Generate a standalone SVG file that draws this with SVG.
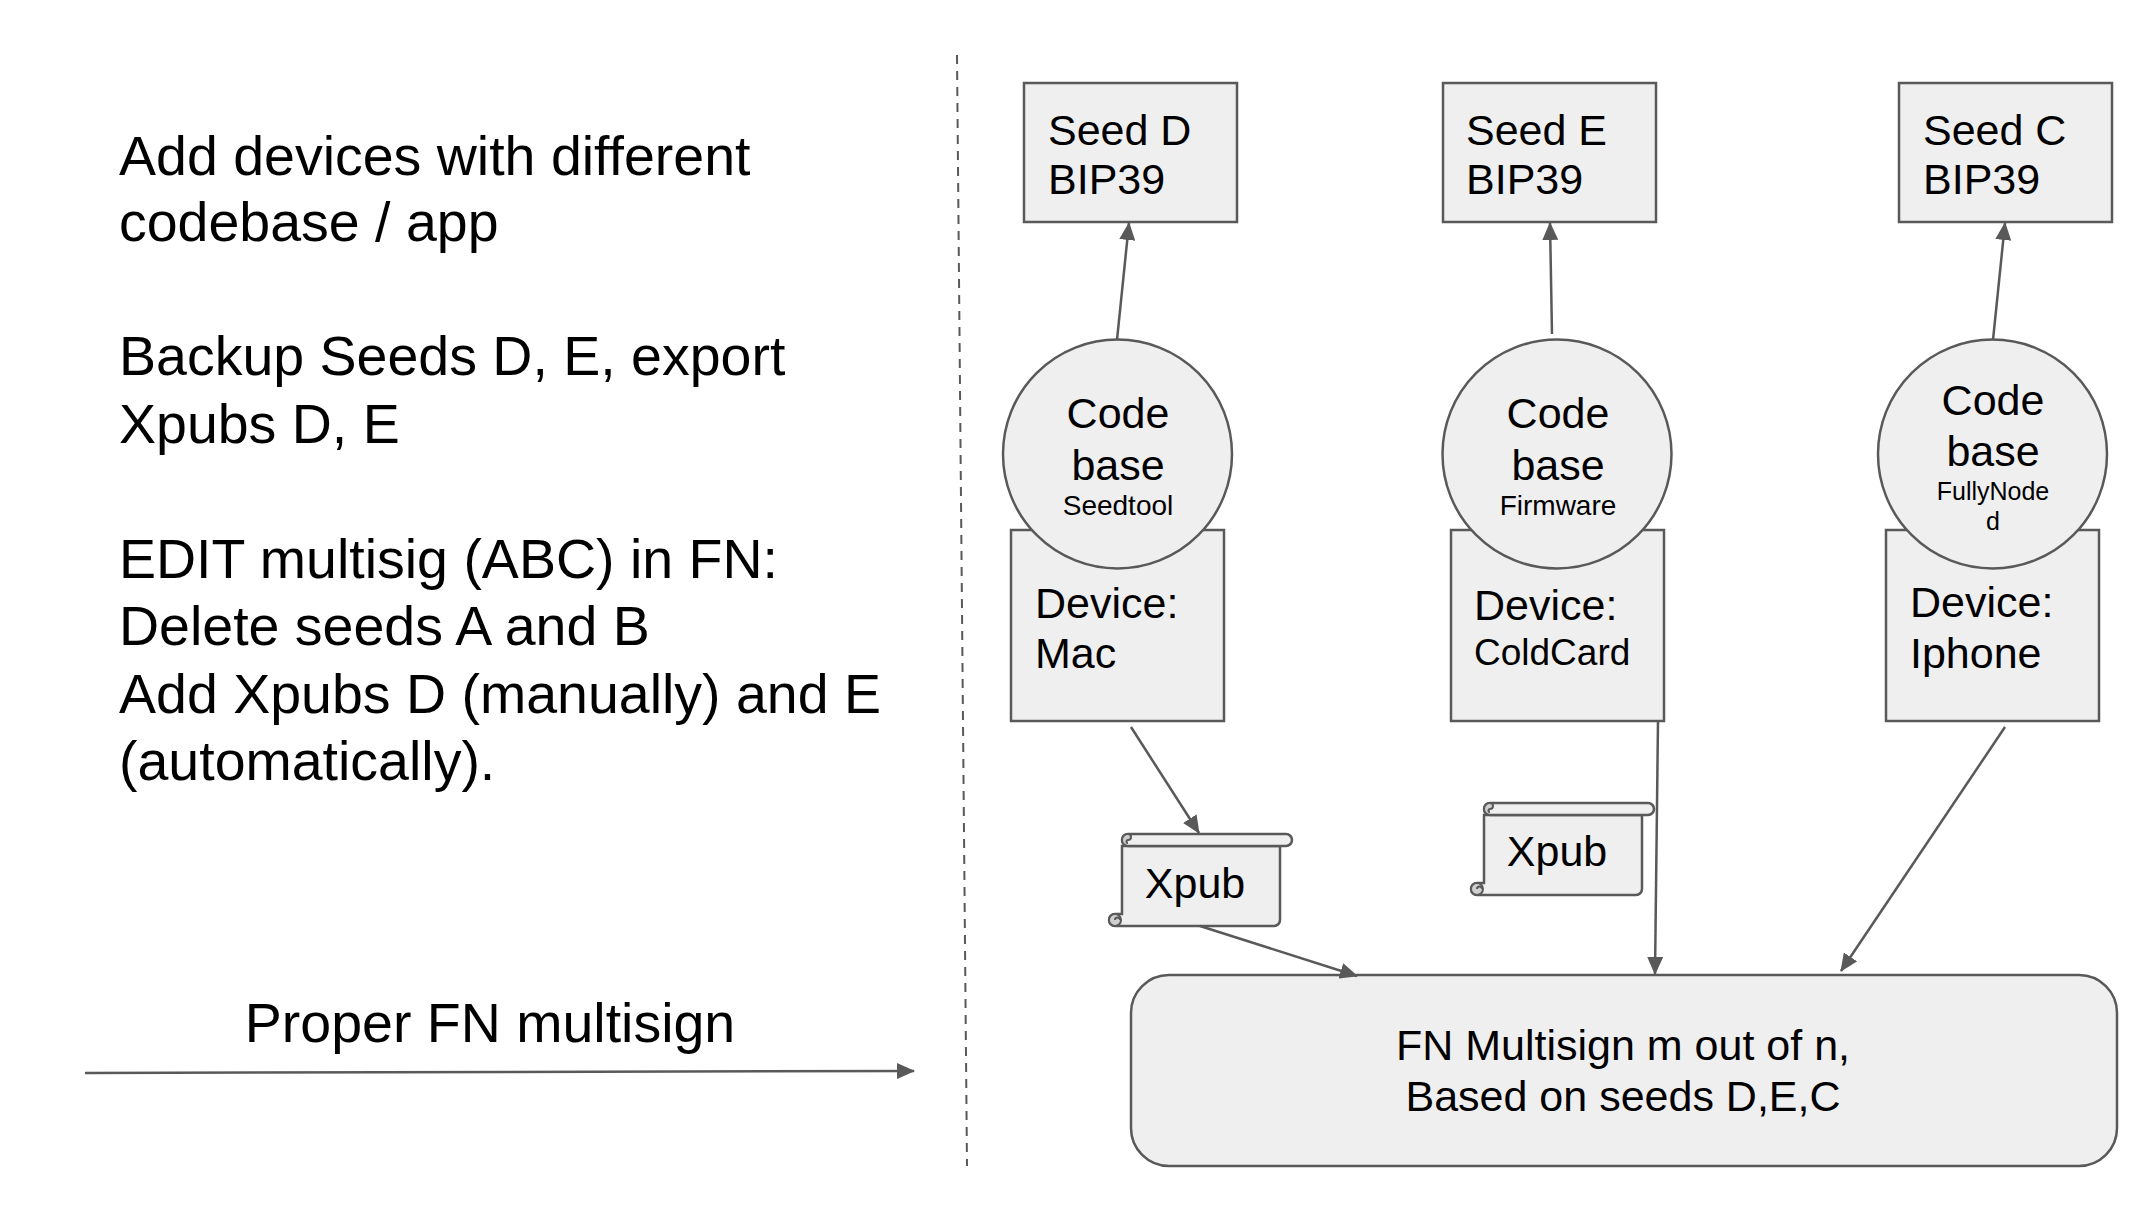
<svg xmlns="http://www.w3.org/2000/svg" xmlns:xlink="http://www.w3.org/1999/xlink" width="2150" height="1206" viewBox="0 0 2150 1206">
<style>
  .box { fill: #efefef; stroke: #595959; stroke-width: 2.5; }
  .curl { fill: #cfcfcf; stroke: #595959; stroke-width: 2; }
  .conn { fill: none; stroke: #595959; stroke-width: 2.5; }
  .dash { fill: none; stroke: #595959; stroke-width: 2; stroke-dasharray: 9 7; }
  text { font-family: "Liberation Sans", Arial, sans-serif; fill: #000000; }
  .big { font-size: 55.5px; }
  .lbl { font-size: 43px; }
  .sub { font-size: 28px; }
  .mid { text-anchor: middle; }
</style>
<defs>
  <marker id="ah" viewBox="0 0 18 16" refX="17" refY="8" markerWidth="18" markerHeight="16" markerUnits="userSpaceOnUse" orient="auto">
    <path d="M0,0 L18,8 L0,16 Z" fill="#595959"/>
  </marker>
  <g id="scroll">
    <path class="box" d="M13,12 V80 H6 A6,6 0 0 0 6,92 H165 A6,6 0 0 0 171,86 V12 Z"/>
    <rect class="box" x="13" y="0" width="170" height="12" rx="6"/>
    <path class="curl" d="M19,12 A6,6 0 0 1 19,0 A3,3 0 0 1 19,6 A1.5,1.5 0 0 0 19,9"/>
    <circle class="curl" cx="6" cy="86" r="6"/>
    <path d="M6,86 A2.5,2.5 0 0 1 11,86" fill="none" stroke="#595959" stroke-width="2"/>
  </g>
</defs>
<rect x="0" y="0" width="2150" height="1206" fill="#ffffff"/>

<g id="notes">
  <text class="big" x="119" y="175">Add devices with different</text>
  <text class="big" x="119" y="241">codebase / app</text>
  <text class="big" x="119" y="375">Backup Seeds D, E, export</text>
  <text class="big" x="119" y="443">Xpubs D, E</text>
  <text class="big" x="119" y="578">EDIT multisig (ABC) in FN:</text>
  <text class="big" x="119" y="645">Delete seeds A and B</text>
  <text class="big" x="119" y="713">Add Xpubs D (manually) and E</text>
  <text class="big" x="119" y="780">(automatically).</text>
  <text class="big mid" x="490" y="1042">Proper FN multisign</text>
</g>

<g id="divider">
  <line class="dash" x1="957" y1="55" x2="967" y2="1166"/>
</g>

<g id="seedD">
  <rect class="box" x="1024" y="83" width="213" height="139"/>
  <text class="lbl" x="1048" y="145">Seed D</text>
  <text class="lbl" x="1048" y="194">BIP39</text>
</g>
<g id="seedE">
  <rect class="box" x="1443" y="83" width="213" height="139"/>
  <text class="lbl" x="1466" y="145">Seed E</text>
  <text class="lbl" x="1466" y="194">BIP39</text>
</g>
<g id="seedC">
  <rect class="box" x="1899" y="83" width="213" height="139"/>
  <text class="lbl" x="1923" y="145">Seed C</text>
  <text class="lbl" x="1923" y="194">BIP39</text>
</g>

<g id="deviceMac">
  <rect class="box" x="1011" y="530" width="213" height="191"/>
  <text class="lbl" x="1035" y="618">Device:</text>
  <text class="lbl" x="1035" y="668">Mac</text>
</g>
<g id="codebaseSeedtool">
  <circle class="box" cx="1117.5" cy="454" r="114.5"/>
  <text class="lbl mid" x="1118" y="428">Code</text>
  <text class="lbl mid" x="1118" y="480">base</text>
  <text class="sub mid" x="1118" y="515">Seedtool</text>
</g>

<g id="deviceColdCard">
  <rect class="box" x="1451" y="530" width="213" height="191"/>
  <text class="lbl" x="1474" y="620">Device:</text>
  <text x="1474" y="665" style="font-size:37px">ColdCard</text>
</g>
<g id="codebaseFirmware">
  <circle class="box" cx="1557" cy="454" r="114.5"/>
  <text class="lbl mid" x="1558" y="428">Code</text>
  <text class="lbl mid" x="1558" y="480">base</text>
  <text class="sub mid" x="1558" y="515">Firmware</text>
</g>

<g id="deviceIphone">
  <rect class="box" x="1886" y="530" width="213" height="191"/>
  <text class="lbl" x="1910" y="617">Device:</text>
  <text class="lbl" x="1910" y="668">Iphone</text>
</g>
<g id="codebaseFullyNoded">
  <circle class="box" cx="1992.5" cy="454" r="114.5"/>
  <text class="lbl mid" x="1993" y="415">Code</text>
  <text class="lbl mid" x="1993" y="466">base</text>
  <text class="mid" x="1993" y="500" style="font-size:25px">FullyNode</text>
  <text class="mid" x="1993" y="530" style="font-size:25px">d</text>
</g>

<g id="xpub1">
  <use xlink:href="#scroll" href="#scroll" transform="translate(1109,834)"/>
  <text class="lbl mid" x="1195" y="898">Xpub</text>
</g>
<g id="xpub2">
  <use xlink:href="#scroll" href="#scroll" transform="translate(1471,803)"/>
  <text class="lbl mid" x="1557" y="866">Xpub</text>
</g>

<g id="fnMultisign">
  <rect class="box" x="1131" y="975" width="986" height="191" rx="38"/>
  <text class="lbl mid" x="1623" y="1060">FN Multisign m out of n,</text>
  <text class="lbl mid" x="1623" y="1111">Based on seeds D,E,C</text>
</g>

<g id="connectors">
  <line class="conn" x1="85" y1="1073" x2="914" y2="1071" marker-end="url(#ah)"/>
  <line class="conn" x1="1117" y1="340" x2="1129" y2="223" marker-end="url(#ah)"/>
  <line class="conn" x1="1552" y1="334" x2="1550" y2="223" marker-end="url(#ah)"/>
  <line class="conn" x1="1993" y1="340" x2="2005" y2="223" marker-end="url(#ah)"/>
  <line class="conn" x1="1131" y1="727" x2="1199" y2="833" marker-end="url(#ah)"/>
  <line class="conn" x1="1200" y1="926" x2="1357" y2="976" marker-end="url(#ah)"/>
  <line class="conn" x1="1658" y1="721" x2="1655" y2="974" marker-end="url(#ah)"/>
  <line class="conn" x1="2005" y1="727" x2="1841" y2="971" marker-end="url(#ah)"/>
</g>
</svg>
